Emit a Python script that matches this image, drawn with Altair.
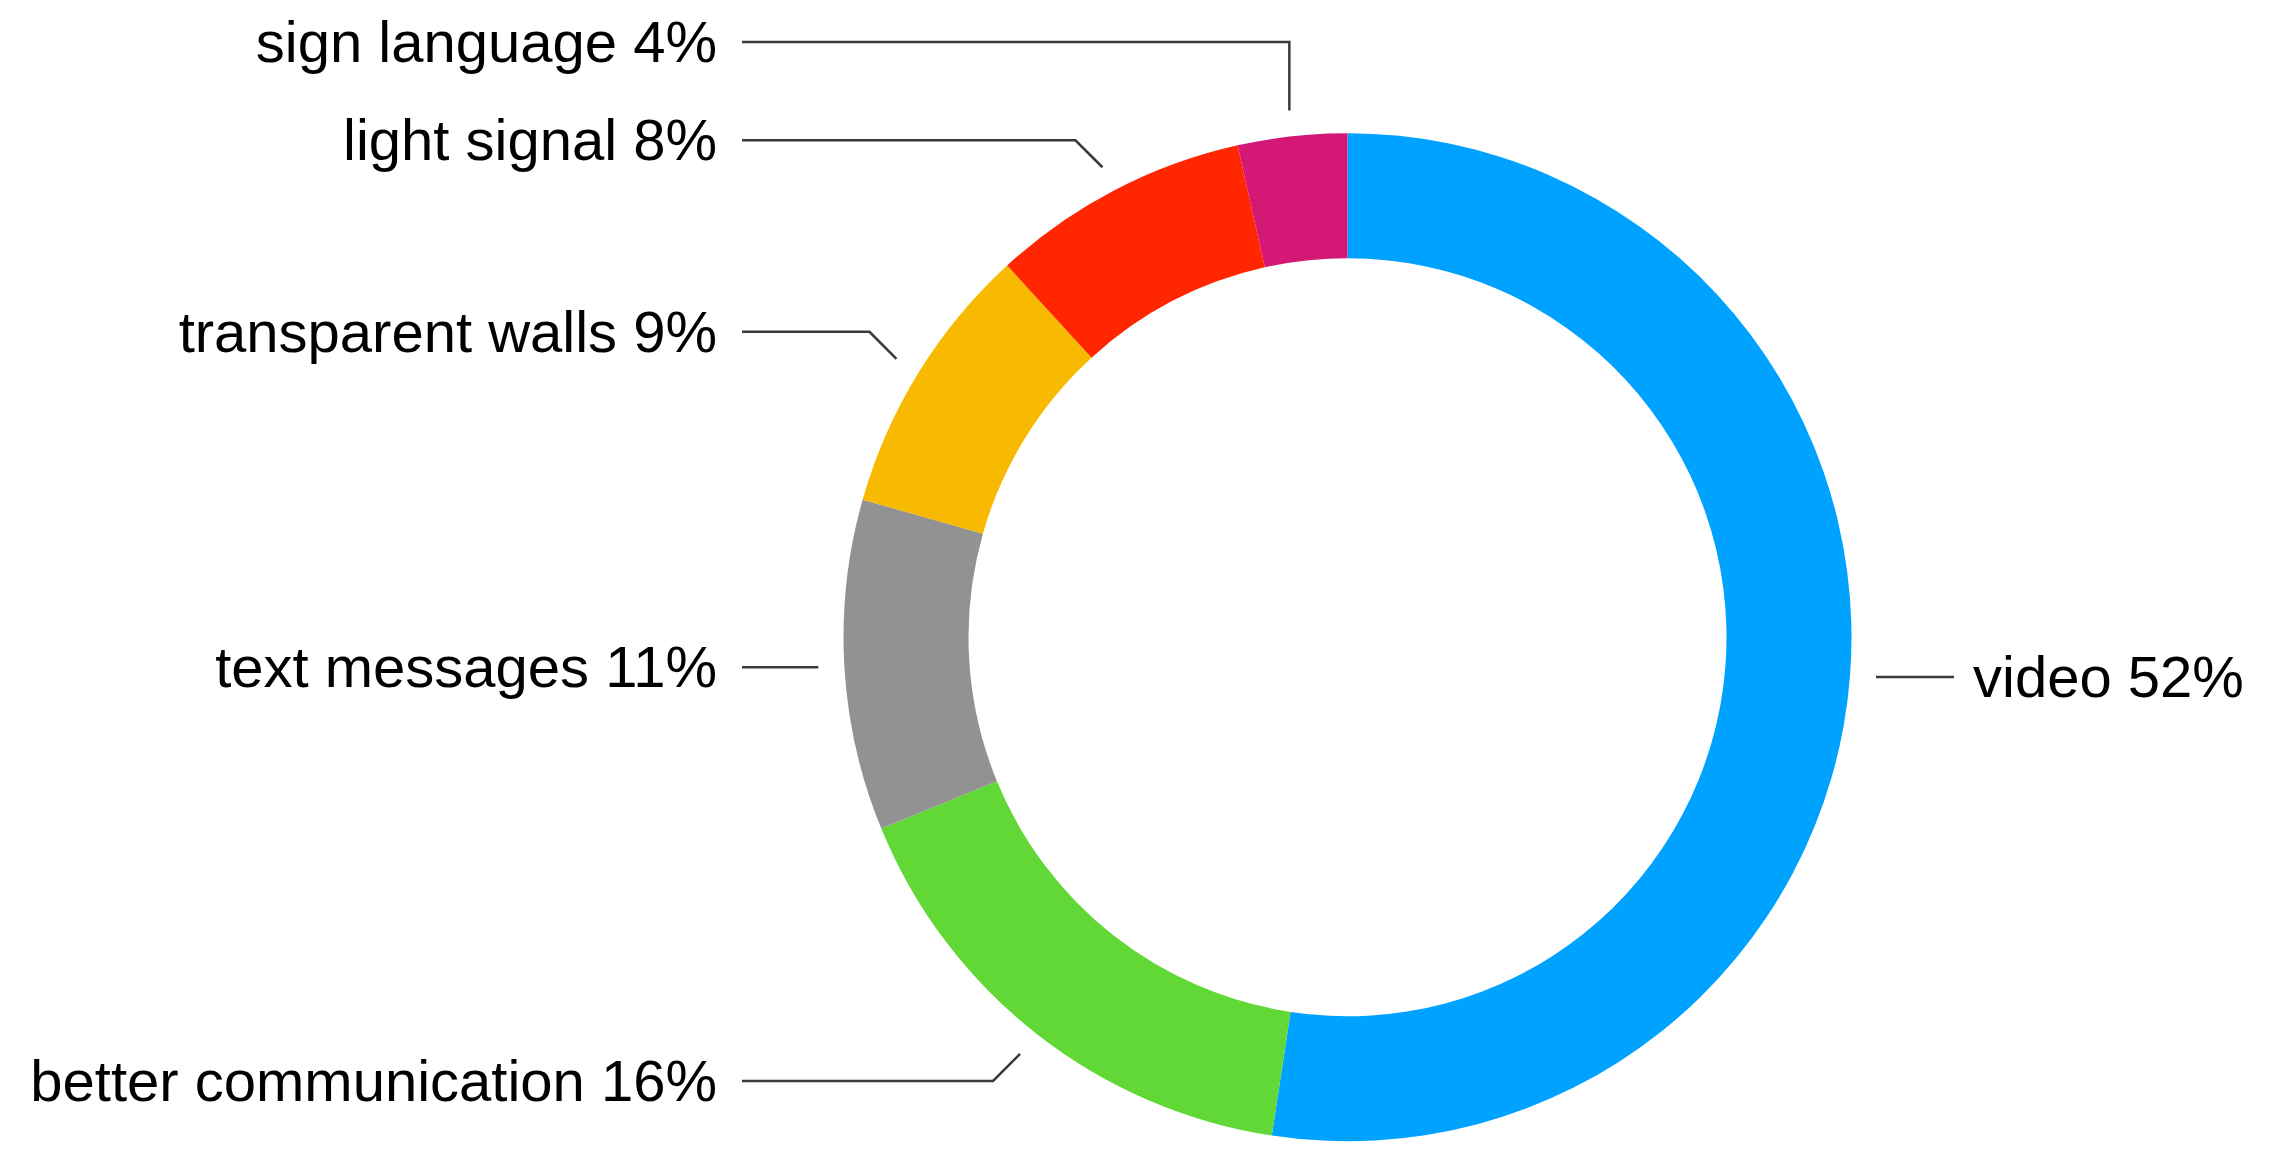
import math
import altair as alt
import pandas as pd

# ---- data ----
categories = ["video", "better communication", "text messages",
              "transparent walls", "light signal", "sign language"]
values = [52.4, 16.4, 10.6, 8.8, 8.3, 3.5]
pct_labels = ["52%", "16%", "11%", "9%", "8%", "4%"]
colors = ["#00A2FF", "#61D836", "#929292", "#F8BA00", "#FF2600", "#D41876"]

# ---- layout (pixels in the plot area) ----
W, H = 2253, 1150
M = 8  # page margin
CX, CY = 1347.5 - M, 637.2 - M
R_IN, R_OUT = 379, 504
R_LEAD = 530          # where a leader line starts
DIAG = 27             # 45-degree elbow segment length (each axis)
LEFT_LINE_END = 742 - M
LEFT_TEXT_X = 717 - M
RIGHT_LINE_END = 1954 - M
RIGHT_TEXT_X = 1973 - M
TOP_ROW_Y = 42 - M    # label pushed up to avoid collision
leader_style = ["straight", "elbow", "straight", "elbow", "elbow", "vertical"]
FONT = "Liberation Sans"
FS = 58
LINE_COLOR = "#3a3a3a"

arc_df = pd.DataFrame({"cat": categories, "value": values,
                       "idx": list(range(len(categories)))})

total = sum(values)
line_rows, left_txt, right_txt = [], [], []
cum = 0.0
for i, (cat, v) in enumerate(zip(categories, values)):
    mid = (cum + v / 2) / total * 2 * math.pi
    cum += v
    sx, sy = math.sin(mid), -math.cos(mid)
    p1 = (CX + R_LEAD * sx, CY + R_LEAD * sy)
    right = sx > 0
    end_x = RIGHT_LINE_END if right else LEFT_LINE_END
    style = leader_style[i]
    if style == "straight":
        pts = [p1, (end_x, p1[1])]
    elif style == "elbow":
        dy = -DIAG if sy < 0 else DIAG
        dx = DIAG if right else -DIAG
        e = (p1[0] + dx, p1[1] + dy)
        pts = [p1, e, (end_x, e[1])]
    else:  # vertical
        e = (p1[0], TOP_ROW_Y)
        pts = [p1, e, (end_x, e[1])]
    for k, (px, py) in enumerate(pts):
        line_rows.append({"cat": cat, "seq": k, "px": px, "py": py})
    ly = pts[-1][1] + 3
    label = f"{cat} {pct_labels[i]}"
    if right:
        right_txt.append({"label": label, "px": RIGHT_TEXT_X, "py": ly})
    else:
        left_txt.append({"label": label, "px": LEFT_TEXT_X, "py": ly})

line_df = pd.DataFrame(line_rows)
left_df = pd.DataFrame(left_txt)
right_df = pd.DataFrame(right_txt)

xs = alt.Scale(domain=[0, W], nice=False, zero=False)
ys = alt.Scale(domain=[H, 0], nice=False, zero=False)

arcs = alt.Chart(arc_df).mark_arc(innerRadius=R_IN, outerRadius=R_OUT).encode(
    theta=alt.Theta("value:Q", stack=True),
    order=alt.Order("idx:Q"),
    color=alt.Color("cat:N", scale=alt.Scale(domain=categories, range=colors), legend=None),
    x=alt.value(CX),
    y=alt.value(CY),
)

lines = alt.Chart(line_df).mark_line(color=LINE_COLOR, strokeWidth=2.5).encode(
    x=alt.X("px:Q", scale=xs, axis=None),
    y=alt.Y("py:Q", scale=ys, axis=None),
    detail="cat:N",
    order="seq:Q",
)

text_left = alt.Chart(left_df).mark_text(
    align="right", baseline="middle", font=FONT, fontSize=FS, color="#000000"
).encode(
    x=alt.X("px:Q", scale=xs, axis=None),
    y=alt.Y("py:Q", scale=ys, axis=None),
    text="label:N",
)

text_right = alt.Chart(right_df).mark_text(
    align="left", baseline="middle", font=FONT, fontSize=FS, color="#000000"
).encode(
    x=alt.X("px:Q", scale=xs, axis=None),
    y=alt.Y("py:Q", scale=ys, axis=None),
    text="label:N",
)

chart = alt.layer(arcs, lines, text_left, text_right).properties(
    width=W, height=H, padding=0, background="white"
).configure_view(stroke=None)

chart.save("out.html", embed_options={"renderer": "svg", "actions": False})
